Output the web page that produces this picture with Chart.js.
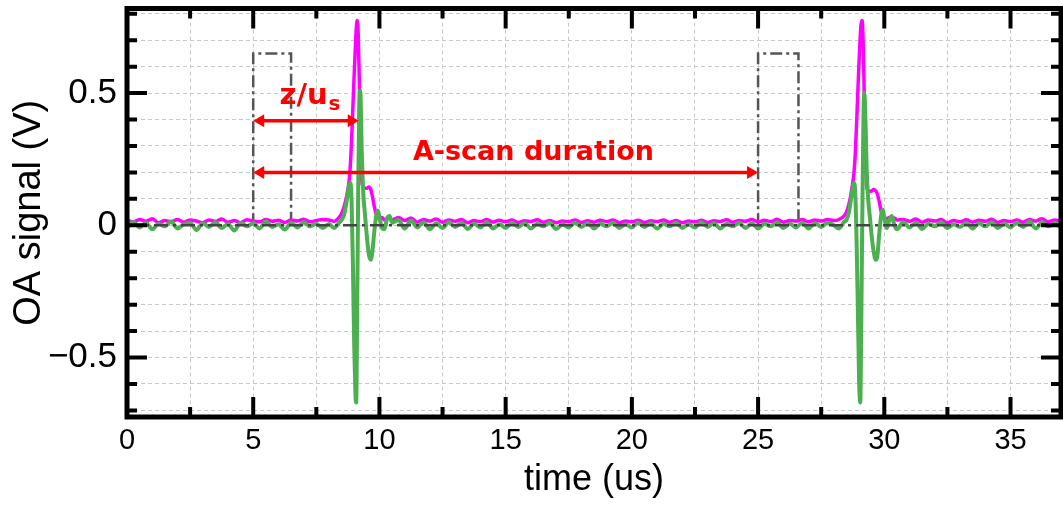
<!DOCTYPE html>
<html>
<head>
<meta charset="utf-8">
<script src="https://cdn.jsdelivr.net/npm/chart.js@4.4.0/dist/chart.umd.min.js"></script>
<style>
  html, body { margin: 0; padding: 0; background: #fff; }
  #wrap { width: 1063px; height: 505px; position: relative; }
</style>
</head>
<body>
<div id="wrap"><canvas id="chart"></canvas></div>
<script>
// axis ranges
const timeRangeUs = [0, 37];
const signalRangeV = [-0.725, 0.82];

// sample times (us), shared by both traces
const timeUs = [
  0, 0.25, 0.5, 0.75, 1, 1.25, 1.5, 1.75, 2, 2.25, 2.5, 2.75, 3, 3.25, 3.5, 3.75,
  4, 4.25, 4.5, 4.75, 5, 5.25, 5.5, 5.75, 6, 6.25, 6.5, 6.75, 7, 7.25, 7.5, 7.75,
  // first pulse
  8, 8.2, 8.4, 8.5, 8.6, 8.7, 8.8, 8.85, 8.9, 8.95,
  9, 9.05, 9.08, 9.12, 9.16, 9.2, 9.24, 9.3, 9.36, 9.42,
  9.5, 9.58, 9.66, 9.72, 9.8, 9.88, 9.94,
  10, 10.1, 10.2, 10.3, 10.4, 10.5,
  10.75,
  11, 11.25, 11.5, 11.75, 12, 12.25, 12.5, 12.75, 13, 13.25, 13.5, 13.75,
  14, 14.25, 14.5, 14.75, 15, 15.25, 15.5, 15.75, 16, 16.25, 16.5, 16.75,
  17, 17.25, 17.5, 17.75, 18, 18.25, 18.5, 18.75, 19, 19.25, 19.5, 19.75,
  20, 20.25, 20.5, 20.75, 21, 21.25, 21.5, 21.75, 22, 22.25, 22.5, 22.75,
  23, 23.25, 23.5, 23.75, 24, 24.25, 24.5, 24.75, 25, 25.25, 25.5, 25.75,
  26, 26.25, 26.5, 26.75, 27, 27.25, 27.5, 27.75,
  // second pulse
  28, 28.2, 28.4, 28.5, 28.6, 28.7, 28.8, 28.85, 28.9, 28.95,
  29, 29.05, 29.08, 29.12, 29.16, 29.2, 29.24, 29.3, 29.36, 29.42,
  29.5, 29.58, 29.66, 29.72, 29.8, 29.88, 29.94,
  30, 30.1, 30.2, 30.3, 30.4, 30.5,
  30.75,
  31, 31.25, 31.5, 31.75, 32, 32.25, 32.5, 32.75, 33, 33.25, 33.5, 33.75,
  34, 34.25, 34.5, 34.75, 35, 35.25, 35.5, 35.75, 36, 36.25, 36.5, 36.75,
  37
];

// magenta trace (V)
const magentaV = [
  0.02, 0.012, 0.022, 0.015, 0.025, 0.01, 0.018, 0.014, 0.022, 0.012, 0.02, 0.016, 0.01, 0.02, 0.015, 0.024,
  0.012, 0.018, 0.01, 0.021, 0.016, 0.013, 0.022, 0.015, 0.019, 0.011, 0.02, 0.016, 0.023, 0.013, 0.018, 0.022,
  0.02, 0.015, 0.03, 0.045, 0.07, 0.11, 0.17, 0.23, 0.33, 0.45,
  0.57, 0.68, 0.74, 0.775, 0.72, 0.56, 0.37, 0.17, 0.145, 0.14,
  0.14, 0.145, 0.135, 0.11, 0.07, 0.04, 0.03,
  0.025, 0.03, 0.02, 0.025, 0.03, 0.02,
  0.03,
  0.018, 0.028, 0.012, 0.022, 0.016, 0.024, 0.012, 0.02, 0.015, 0.022, 0.01, 0.018,
  0.014, 0.022, 0.012, 0.019, 0.013, 0.02, 0.011, 0.017, 0.014, 0.021, 0.012, 0.018,
  0.01, 0.016, 0.013, 0.02, 0.011, 0.017, 0.012, 0.019, 0.014, 0.02, 0.01, 0.016,
  0.013, 0.019, 0.011, 0.017, 0.014, 0.02, 0.012, 0.018, 0.01, 0.016, 0.013, 0.019,
  0.011, 0.017, 0.014, 0.021, 0.012, 0.018, 0.015, 0.022, 0.013, 0.019, 0.014, 0.023,
  0.012, 0.018, 0.016, 0.022, 0.013, 0.02, 0.016, 0.022,
  0.018, 0.022, 0.035, 0.05, 0.08, 0.13, 0.2, 0.27, 0.38, 0.5,
  0.62, 0.72, 0.76, 0.775, 0.7, 0.52, 0.33, 0.15, 0.13, 0.128,
  0.13, 0.135, 0.13, 0.12, 0.09, 0.05, 0.035,
  0.03, 0.025, 0.03, 0.022, 0.028, 0.02,
  0.022,
  0.015, 0.024, 0.012, 0.02, 0.016, 0.022, 0.01, 0.018, 0.013, 0.021, 0.012, 0.019,
  0.015, 0.023, 0.011, 0.018, 0.014, 0.02, 0.012, 0.022, 0.016, 0.025, 0.013, 0.02,
  0.015
];

// green trace (V)
const greenV = [
  -0.01, 0.012, -0.008, 0.01, -0.015, 0.006, -0.004, 0.014, -0.012, 0.004, 0.01, -0.018, 0.008, -0.006, 0.012, -0.01,
  0.005, -0.02, 0.01, -0.004, 0.008, -0.012, 0.014, -0.006, 0.004, -0.016, 0.01, -0.008, 0.012, -0.004, 0.006, -0.01,
  0.005, -0.01, 0.01, 0.02, 0.04, 0.09, 0.15, 0.16, 0.08, -0.15,
  -0.45, -0.64, -0.67, -0.3, 0.15, 0.45, 0.51, 0.28, 0.12, 0.05,
  -0.04, -0.11, -0.13, -0.1, -0.02, 0.04, 0.055,
  0.03, -0.01, -0.015, 0.025, 0.035, 0.01,
  0.02,
  -0.012, 0.018, -0.008, 0.012, -0.015, 0.008, -0.01, 0.012, -0.006, 0.01, -0.014, 0.006,
  -0.008, 0.012, -0.012, 0.004, -0.01, 0.01, -0.006, 0.008, -0.012, 0.006, -0.004, 0.01,
  -0.014, 0.004, -0.008, 0.01, -0.006, 0.008, -0.012, 0.006, -0.004, 0.01, -0.01, 0.004,
  -0.008, 0.01, -0.006, 0.008, -0.012, 0.006, -0.004, 0.01, -0.01, 0.004, -0.008, 0.012,
  -0.006, 0.008, -0.012, 0.006, -0.004, 0.01, -0.01, 0.008, -0.012, 0.006, -0.004, 0.012,
  -0.01, 0.006, -0.008, 0.01, -0.012, 0.008, -0.006, 0.01,
  0.0, -0.012, 0.012, 0.02, 0.05, 0.11, 0.16, 0.12, -0.05, -0.3,
  -0.58, -0.67, -0.45, -0.05, 0.3, 0.5, 0.45, 0.22, 0.1, 0.04,
  -0.04, -0.1, -0.13, -0.12, -0.03, 0.04, 0.06,
  0.03, -0.01, 0.02, 0.035, 0.0, -0.015,
  0.012,
  -0.008, 0.01, -0.014, 0.006, -0.004, 0.012, -0.01, 0.004, -0.006, 0.01, -0.012, 0.008,
  -0.004, 0.012, -0.01, 0.006, -0.008, 0.01, -0.006, 0.014, -0.012, 0.012, -0.004, 0.008,
  -0.01
];

// acquisition gates (dash-dot boxes)
const gateStartUs = [5, 25];
const gateEndUs = [6.5, 26.6];
const gateLevelV = 0.65;
const zeroLevelV = 0;

// red double arrows
const arrowFromUs = [5, 5];
const arrowToUs = [9.18, 25];
const arrowLevelV = [0.395, 0.2];
const arrowText = ['z/u', 'A-scan duration'];
const arrowSubText = ['s', ''];

const LABEL_FONT = '"Liberation Sans", Arial, Helvetica, sans-serif';
const NOTE_FONT = '"DejaVu Sans", Verdana, sans-serif';

const notePlacement = [
  { xUs: 7.25, yV: 0.46, size: 29 },
  { xUs: 16.1, yV: 0.248, size: 27 }
];

const toPoints = vals => timeUs.map((t, i) => ({ x: t, y: vals[i] }));

const gateSets = gateStartUs.map((s, i) => ({
  data: [
    { x: s, y: zeroLevelV }, { x: s, y: gateLevelV },
    { x: gateEndUs[i], y: gateLevelV }, { x: gateEndUs[i], y: zeroLevelV }
  ],
  borderColor: '#555555',
  borderWidth: 2.5,
  borderDash: [12, 4, 3, 4],
  pointRadius: 0,
  tension: 0
}));

// inward ticks on all four sides + thick frame
const frameTicks = {
  id: 'frameTicks',
  afterDraw(chart) {
    const { ctx, chartArea: a, scales: { x, y } } = chart;
    ctx.save();
    ctx.strokeStyle = '#000';
    ctx.lineWidth = 4;
    ctx.beginPath();
    x.ticks.forEach(t => {
      const px = x.getPixelForValue(t.value);
      const len = t.label ? 20 : 10;
      ctx.moveTo(px, a.bottom); ctx.lineTo(px, a.bottom - len);
      ctx.moveTo(px, a.top); ctx.lineTo(px, a.top + len);
    });
    y.ticks.forEach(t => {
      const py = y.getPixelForValue(t.value);
      const len = t.label ? 20 : 10;
      ctx.moveTo(a.left, py); ctx.lineTo(a.left + len, py);
      ctx.moveTo(a.right, py); ctx.lineTo(a.right - len, py);
    });
    ctx.stroke();
    ctx.lineWidth = 5;
    ctx.strokeRect(a.left, a.top, a.right - a.left, a.bottom - a.top);
    ctx.restore();
  }
};

// red double-headed arrows with labels
const arrowNotes = {
  id: 'arrowNotes',
  afterDatasetsDraw(chart) {
    const { ctx, scales: { x, y } } = chart;
    ctx.save();
    ctx.strokeStyle = '#ff0000';
    ctx.fillStyle = '#ff0000';
    ctx.lineWidth = 3.5;
    const head = 11, half = 6.5;
    arrowFromUs.forEach((f, i) => {
      const x1 = x.getPixelForValue(f);
      const x2 = x.getPixelForValue(arrowToUs[i]);
      const py = y.getPixelForValue(arrowLevelV[i]);
      ctx.beginPath();
      ctx.moveTo(x1 + head - 1, py); ctx.lineTo(x2 - head + 1, py);
      ctx.stroke();
      ctx.beginPath();
      ctx.moveTo(x1, py); ctx.lineTo(x1 + head, py - half); ctx.lineTo(x1 + head, py + half);
      ctx.closePath(); ctx.fill();
      ctx.beginPath();
      ctx.moveTo(x2, py); ctx.lineTo(x2 - head, py - half); ctx.lineTo(x2 - head, py + half);
      ctx.closePath(); ctx.fill();

      // label
      const p = notePlacement[i];
      const mainFont = 'bold ' + p.size + 'px ' + NOTE_FONT;
      const subFont = 'bold 20px ' + NOTE_FONT;
      ctx.font = mainFont;
      const wMain = ctx.measureText(arrowText[i]).width;
      ctx.font = subFont;
      const wSub = arrowSubText[i] ? ctx.measureText(arrowSubText[i]).width + 1 : 0;
      const cx = x.getPixelForValue(p.xUs);
      const by = y.getPixelForValue(p.yV);
      const sx = cx - (wMain + wSub) / 2;
      ctx.textBaseline = 'alphabetic';
      ctx.textAlign = 'left';
      ctx.font = mainFont;
      ctx.fillText(arrowText[i], sx, by);
      if (arrowSubText[i]) {
        ctx.font = subFont;
        ctx.fillText(arrowSubText[i], sx + wMain + 1, by + 6);
      }
    });
    ctx.restore();
  }
};

new Chart(document.getElementById('chart'), {
  type: 'line',
  data: {
    datasets: [
      {
        data: [{ x: timeRangeUs[0], y: zeroLevelV }, { x: timeRangeUs[1], y: zeroLevelV }],
        borderColor: '#444444',
        borderWidth: 2.5,
        borderDash: [14, 5, 3, 5],
        pointRadius: 0
      },
      {
        data: toPoints(greenV),
        borderColor: '#4caf50',
        borderWidth: 4,
        pointRadius: 0,
        cubicInterpolationMode: 'monotone'
      },
      {
        data: toPoints(magentaV),
        borderColor: '#ff00ff',
        borderWidth: 3.5,
        pointRadius: 0,
        cubicInterpolationMode: 'monotone'
      },
      ...gateSets
    ]
  },
  options: {
    responsive: true,
    maintainAspectRatio: false,
    animation: false,
    devicePixelRatio: 1,
    layout: { padding: { left: 0, right: 2, top: 8.5, bottom: 0 } },
    plugins: {
      legend: { display: false },
      tooltip: { enabled: false }
    },
    scales: {
      x: {
        type: 'linear',
        min: timeRangeUs[0],
        max: timeRangeUs[1],
        afterFit: s => { s.height = 88; s.paddingLeft = 0; s.paddingRight = 0; },
        grid: { color: '#c8c8c8', lineWidth: 1, drawTicks: false },
        border: { display: false, dash: [4, 3] },
        ticks: {
          stepSize: 2.5,
          includeBounds: false,
          autoSkip: false,
          maxRotation: 0,
          padding: 7,
          color: '#000',
          font: { family: LABEL_FONT, size: 29 },
          callback: v => (Math.abs(v % 5) < 1e-9 ? String(v) : '')
        },
        title: {
          display: true,
          text: 'time (us)',
          color: '#000',
          font: { family: LABEL_FONT, size: 36 },
          padding: { top: 0, bottom: 3 }
        }
      },
      y: {
        min: signalRangeV[0],
        max: signalRangeV[1],
        afterFit: s => { s.width = 127; s.paddingTop = 0; s.paddingBottom = 0; },
        grid: { color: '#c8c8c8', lineWidth: 1, drawTicks: false },
        border: { display: false, dash: [4, 3] },
        ticks: {
          stepSize: 0.1,
          includeBounds: false,
          autoSkip: false,
          padding: 10,
          color: '#000',
          font: { family: LABEL_FONT, size: 35 },
          callback: v => {
            const r = Math.round(v * 10) / 10;
            if (Math.abs(r * 2 - Math.round(r * 2)) > 1e-9) return '';
            return r < 0 ? '\u2212' + Math.abs(r) : String(r);
          }
        },
        title: {
          display: true,
          text: 'OA signal (V)',
          color: '#000',
          font: { family: LABEL_FONT, size: 38 },
          padding: { top: 7, bottom: 0 }
        }
      }
    }
  },
  plugins: [frameTicks, arrowNotes]
});
</script>
</body>
</html>
